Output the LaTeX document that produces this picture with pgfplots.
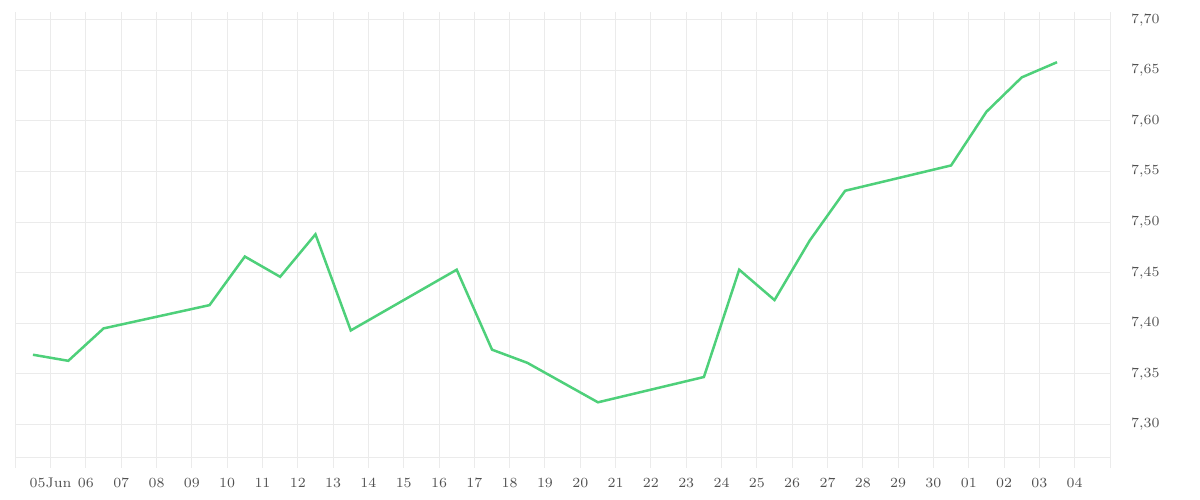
\documentclass[border=0pt]{standalone}
\usepackage{pgfplots}
\pgfplotsset{compat=1.18}
\definecolor{gridgray}{RGB}{235,235,235}
\definecolor{labelgray}{RGB}{80,80,80}
\definecolor{linegreen}{RGB}{78,208,122}
\begin{document}
\begin{tikzpicture}
\begin{axis}[
  scale only axis,
  width=547.35pt, height=223pt,
  xmin=-1, xmax=30,
  ymin=7.267, ymax=7.7076,
  axis x line*=bottom,
  axis y line*=right,
  x axis line style={draw=gridgray, line width=0.5pt, -},
  y axis line style={draw=gridgray, line width=0.5pt, -},
  grid=major,
  major grid style={draw=gridgray, line width=0.5pt},
  xtick={-1,0,...,30},
  xticklabels={,05Jun,06,07,08,09,10,11,12,13,14,15,16,17,18,19,20,21,22,23,24,25,26,27,28,29,30,01,02,03,04,},
  ytick={7.30,7.35,...,7.71},
  yticklabel pos=right,
  tick align=outside,
  major tick length=5pt,
  xtick style={draw=gridgray, line width=0.5pt},
  ytick style={draw=none},
  tick label style={font=\fontsize{7}{8.5}\selectfont, text=labelgray},
  x tick label style={yshift=-1.5pt},
  y tick label style={xshift=2pt},
  /pgf/number format/.cd, use comma, fixed, fixed zerofill, precision=2, assume math mode=true,
]
\addplot[linegreen, line width=1.25pt, mark=none] coordinates {
  (-0.5,7.369) (0.5,7.363) (1.5,7.395) (4.5,7.418) (5.5,7.466)
  (6.5,7.446) (7.5,7.488) (8.5,7.393) (11.5,7.453) (12.5,7.374)
  (13.5,7.361) (15.5,7.322) (18.5,7.347) (19.5,7.453) (20.5,7.423)
  (21.5,7.482) (22.5,7.531) (25.5,7.556) (26.5,7.609) (27.5,7.643)
  (28.5,7.658)
};
\end{axis}
\pgfresetboundingbox
\path ([shift={(-7.65pt,-21pt)}]current axis.south west) rectangle ([shift={(45pt,6pt)}]current axis.north east);
\end{tikzpicture}
\end{document}
